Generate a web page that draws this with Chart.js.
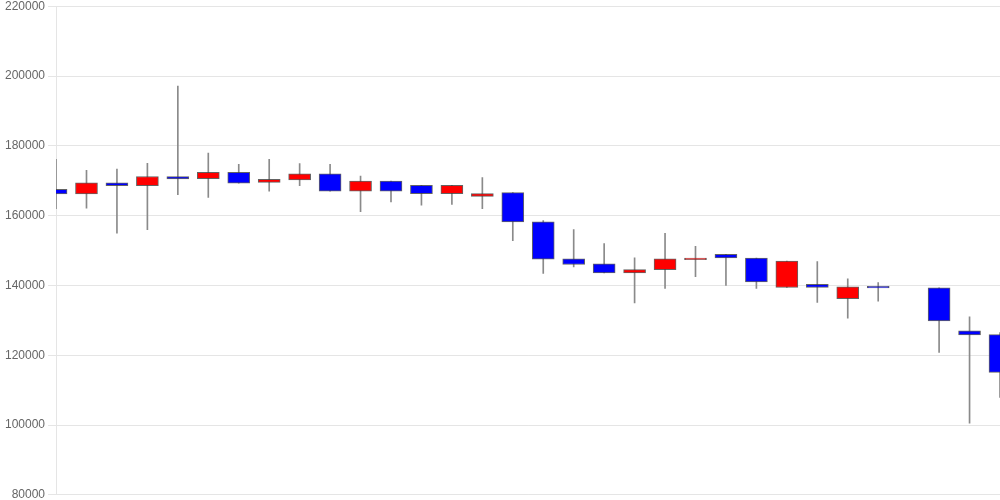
<!DOCTYPE html>
<html>
<head>
<meta charset="utf-8">
<script src="https://cdn.jsdelivr.net/npm/chart.js@4"></script>
<style>
  html, body { margin: 0; padding: 0; background: #fff; overflow: hidden; }
  #wrap { position: relative; top: -4px; width: 1000px; height: 509px; }
</style>
</head>
<body>
<div id="wrap"><canvas id="candleChart"></canvas></div>
<script>
// one slot per trading day, slot 28 has no data
const days = Array.from({ length: 32 }, (_, i) => String(i + 1));

const opens  = [167500, 166200, 169400, 168600, 171200, 170600, 172400, 169500, 170200, 172000,
                167000, 169900, 168700, 166300, 165500, 166600, 158200, 147600, 146200, 143600,
                144500, 147400, 148900, 147800, 139400, 140300, 136200, 139700, null, 139300,
                127000, 125900];
const highs  = [176100, 173000, 173300, 175000, 197100, 177900, 174700, 176100, 174900, 174700,
                171300, 169900, 168700, 168700, 170900, 166600, 158600, 156000, 152000, 147900,
                154900, 151200, 148900, 147800, 147000, 146800, 141900, 140800, null, 139300,
                131000, 126500];
const lows   = [162000, 162100, 155000, 156000, 166000, 165200, 169300, 167000, 168600, 167000,
                161100, 163900, 163000, 163200, 162000, 152800, 143400, 145300, 143600, 135000,
                139100, 142500, 140000, 139100, 139400, 135100, 130600, 135500, null, 120800,
                100500, 107900];
const closes = [166200, 169400, 168600, 171200, 170500, 172400, 169300, 170400, 172000, 167000,
                169900, 167000, 166300, 168700, 166300, 158200, 147500, 146000, 143600, 144500,
                147600, 147800, 147900, 141000, 147000, 139400, 139600, 139300, null, 129800,
                125800, 115100];

const yTicks = [80000, 100000, 120000, 140000, 160000, 180000, 200000, 220000];

const upColor = '#ff0000';
const downColor = '#0000ff';

const bodies = opens.map((o, i) => (o === null ? null : [o, closes[i]]));
const wicks = lows.map((l, i) => (l === null ? null : [l, highs[i]]));
const bodyColors = opens.map((o, i) => (closes[i] >= o ? upColor : downColor));

const ctx = document.getElementById('candleChart').getContext('2d');

new Chart(ctx, {
  type: 'bar',
  data: {
    labels: days,
    datasets: [
      {
        label: 'body',
        data: bodies,
        backgroundColor: bodyColors,
        borderColor: 'rgba(60,60,60,0.8)',
        borderWidth: 1,
        borderSkipped: false,
        barThickness: 22,
        grouped: false,
        clip: 0,
        order: 1
      },
      {
        label: 'wick',
        data: wicks,
        backgroundColor: '#8a8a8a',
        borderWidth: 0,
        barThickness: 1,
        grouped: false,
        clip: 0,
        order: 2
      }
    ]
  },
  options: {
    responsive: true,
    maintainAspectRatio: false,
    animation: false,
    layout: { padding: { left: 2 } },
    plugins: {
      legend: { display: false },
      tooltip: { enabled: false }
    },
    scales: {
      x: {
        display: false,
        offset: false
      },
      y: {
        min: yTicks[0],
        max: yTicks[yTicks.length - 1],
        afterBuildTicks: (axis) => { axis.ticks = yTicks.map(v => ({ value: v })); },
        ticks: {
          color: '#666',
          font: { size: 12, family: 'Arial, "Liberation Sans", sans-serif' },
          callback: (v) => String(v)
        },
        grid: { color: 'rgba(0,0,0,0.1)' }
      }
    }
  }
});
</script>
</body>
</html>
